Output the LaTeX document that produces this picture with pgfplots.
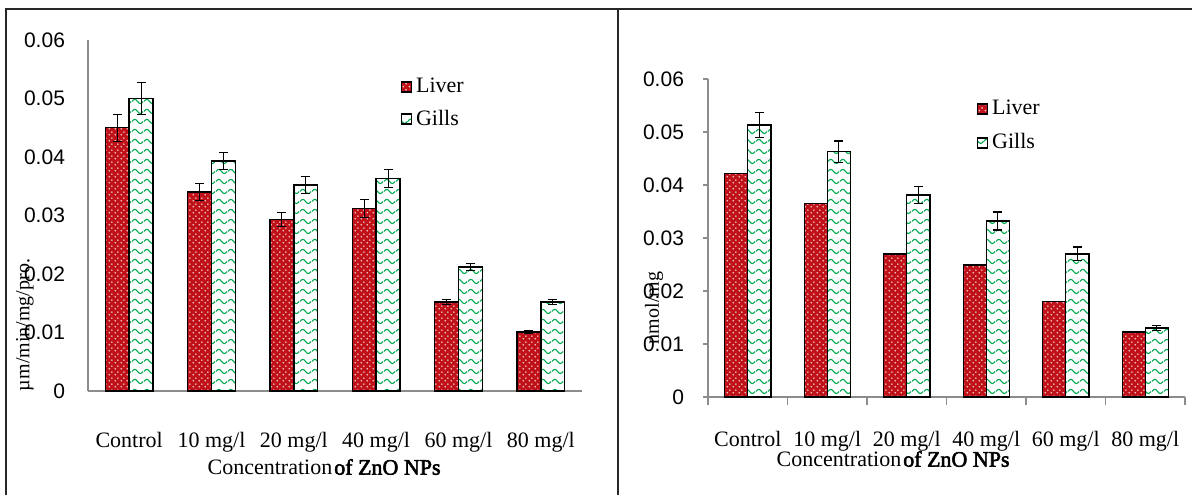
\documentclass[border=0pt]{standalone}
\usepackage{fontspec}
\setmainfont{Liberation Serif}[BoldFont={Liberation Serif}, BoldFeatures={FakeBold=2.5}]
\newfontfamily\arialf{Liberation Sans}
\usepackage{pgfplots}
\pgfplotsset{compat=1.18}
\usetikzlibrary{patterns,patterns.meta}

\definecolor{livred}{RGB}{192,16,24}
\definecolor{gilgrn}{RGB}{0,170,80}
\definecolor{axgray}{RGB}{140,140,140}

% white dots on red (Liver), green waves on white (Gills)
\tikzdeclarepattern{name=livdots, type=uncolored,
  bottom left={(0pt,0pt)}, top right={(3pt,3pt)}, tile size={(3pt,3pt)},
  code={\fill (0.75pt,0.75pt) circle (0.5pt); \fill (2.25pt,2.25pt) circle (0.5pt);}}
\tikzdeclarepattern{name=waves, type=uncolored,
  bottom left={(0pt,0pt)}, top right={(6pt,5pt)}, tile size={(6pt,5pt)},
  code={\draw[line width=0.6pt] (0pt,2.5pt) .. controls (1pt,4pt) and (2pt,4pt) .. (3pt,2.5pt)
        .. controls (4pt,1pt) and (5pt,1pt) .. (6pt,2.5pt);}}

\pgfplotsset{
  liver/.style={draw=black, line width=0.7pt, fill=livred,
    postaction={pattern=livdots, pattern color=white!80!livred}},
  gills/.style={draw=black, line width=0.7pt, fill=white,
    postaction={pattern=waves, pattern color=gilgrn}},
  errs/.style={error bars/.cd, y dir=both, y explicit,
    error bar style={black, line width=0.6pt},
    error mark options={rotate=90, mark size=2.2pt, black, line width=0.6pt}},
  panel/.style={scale only axis, anchor=south west,
    ybar=0pt, bar width=0.29,
    xmin=-0.5, xmax=5.5, ymin=0, ymax=0.06,
    ytick={0,0.01,0.02,0.03,0.04,0.05,0.06},
    xtick={0,1,2,3,4,5},
    xticklabels={Control,10 mg/l,20 mg/l,40 mg/l,60 mg/l,80 mg/l},
    axis x line*=bottom, axis y line*=left,
    axis line style={axgray, line width=0.8pt},
    xtick style={draw=none},
    x tick label style={font=\fontsize{11}{13}\selectfont},
    y tick label style={font=\fontsize{10.5}{12}\arialf},
    /pgf/number format/.cd, fixed, precision=2, assume math mode=true, /pgfplots/.cd,
    scaled y ticks=false,
    legend style={draw=none, fill=none, font=\fontsize{11}{13}\selectfont,
      cells={anchor=west}, row sep=3pt},
    legend image code/.code={\draw[##1] (0pt,-2.5pt) rectangle (5pt,2.5pt);},
    xlabel style={font=\fontsize{11}{13}\selectfont, anchor=center},
    ylabel style={font=\fontsize{10}{12}\selectfont, anchor=center},
  },
}

\begin{document}
\begin{tikzpicture}
\path[use as bounding box] (0,0) rectangle (596pt,247.5pt);

% left panel
\begin{axis}[panel,
  at={(44pt,52pt)}, width=247pt, height=175.5pt,
  ytick style={draw=none},
  y tick label style={xshift=-8pt},
  x tick label style={yshift=-13pt},
  xlabel={Concentration\hspace{1pt}\textbf{of ZnO NPs}},
  xlabel style={at={(axis description cs:0.478,-0.2165)}},
  ylabel={µm/min/mg/pro.},
  ylabel style={at={(axis description cs:-0.1275,0.188)}},
  legend style={at={(axis description cs:0.62,0.915)}, anchor=north west},
]
\addplot[liver, errs] coordinates {
  (0,0.0450) +- (0,0.0023) (1,0.0340) +- (0,0.0015) (2,0.0293) +- (0,0.0012)
  (3,0.0312) +- (0,0.0015) (4,0.0152) +- (0,0.0004) (5,0.0101) +- (0,0.0003)};
\addlegendentry{Liver}
\addplot[gills, errs] coordinates {
  (0,0.0500) +- (0,0.0027) (1,0.0393) +- (0,0.0015) (2,0.0352) +- (0,0.0015)
  (3,0.0363) +- (0,0.0015) (4,0.0212) +- (0,0.0006) (5,0.0152) +- (0,0.0004)};
\addlegendentry{Gills}
\end{axis}

% right panel
\begin{axis}[panel,
  at={(354pt,49pt)}, width=238.5pt, height=159pt,
  ytick style={draw=axgray, line width=0.8pt}, tick align=outside, major tick length=2.5pt,
  extra x ticks={-0.5,0.5,1.5,2.5,3.5,4.5,5.5}, extra x tick labels={},
  extra x tick style={xtick style={draw=axgray, line width=0.8pt}, major tick length=4pt},
  y tick label style={xshift=-6pt},
  x tick label style={yshift=-11pt},
  xlabel={Concentration\hspace{1pt}\textbf{of ZnO NPs}},
  xlabel style={at={(axis description cs:0.388,-0.195)}},
  ylabel={nmol/mg},
  ylabel style={at={(axis description cs:-0.113,0.28)}},
  legend style={at={(axis description cs:0.55,0.96)}, anchor=north west, row sep=4pt},
]
\addplot[liver] coordinates {
  (0,0.0422) (1,0.0365) (2,0.0270) (3,0.0249) (4,0.0180) (5,0.0123)};
\addlegendentry{Liver}
\addplot[gills, errs] coordinates {
  (0,0.0513) +- (0,0.0024) (1,0.0463) +- (0,0.0020) (2,0.0381) +- (0,0.0016)
  (3,0.0332) +- (0,0.0017) (4,0.0270) +- (0,0.0013) (5,0.0130) +- (0,0.0005)};
\addlegendentry{Gills}
\end{axis}

% frame
\draw[line width=1pt, black!85] (3pt,0pt) -- (3pt,243pt) -- (596pt,243pt);
\draw[line width=1pt, black!85] (309pt,0pt) -- (309pt,243pt);
\end{tikzpicture}
\end{document}
